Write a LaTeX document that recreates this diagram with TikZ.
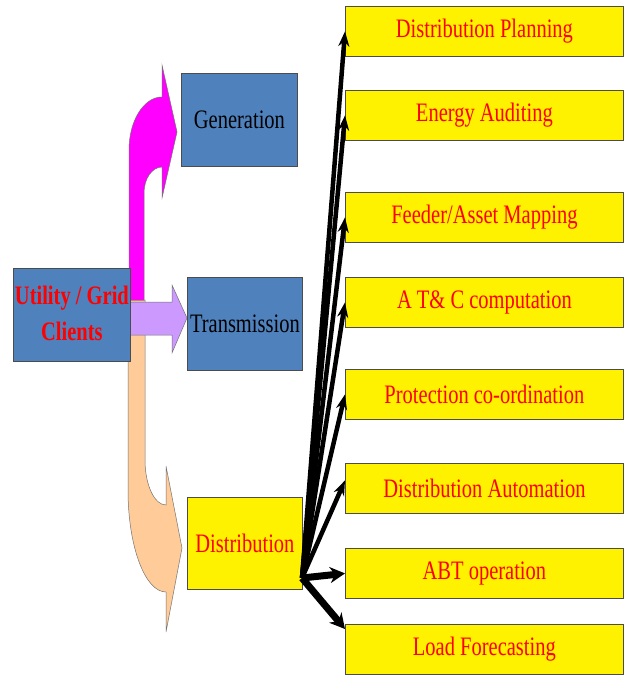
\documentclass[tikz,border=0pt]{standalone}
\usepackage{fontspec}
\setmainfont{Liberation Serif}
\usepackage{graphicx}
\usetikzlibrary{arrows.meta, positioning}

\definecolor{boxblue}{HTML}{4F81BD}
\definecolor{pinkarrow}{HTML}{FF00FF}
\definecolor{lilac}{HTML}{CC99FF}
\definecolor{peach}{HTML}{FFCC99}

\newcommand{\talltext}[1]{\scalebox{1}[1.3]{#1}}

\begin{document}
\begin{tikzpicture}[x=1pt,y=-1pt,>={Stealth[length=15pt,width=11pt]},
                    main node/.style={draw=black!70,line width=0.8pt,inner sep=0pt,anchor=north west,
                      font=\fontsize{20.5}{27.7}\selectfont},
                    blue node/.style={main node,fill=boxblue,minimum width=116pt,minimum height=93pt},
                    task node/.style={main node,fill=yellow,text=red,minimum width=278pt,minimum height=50pt},
                    block arrow/.style={draw=black!55,line width=0.5pt}]

  \useasboundingbox (0,0) rectangle (626,677);

  % block arrows
  \path[block arrow,fill=peach] (128,300) -- (128,490)
    arc[start angle=180,end angle=90,x radius=38,y radius=102]
    -- (166,632) -- (182,548) -- (166,466) -- (166,505)
    arc[start angle=90,end angle=180,x radius=21,y radius=45]
    -- (145,300) -- cycle;
  \path[block arrow,fill=pinkarrow] (129,300) -- (129,150)
    arc[start angle=180,end angle=270,x radius=33,y radius=53]
    -- (162,65) -- (177,132) -- (162,198) -- (162,167)
    arc[start angle=270,end angle=180,x radius=18,y radius=26]
    -- (144,300) -- cycle;
  \path[block arrow,fill=lilac] (129,302) -- (172,302) -- (172,285) -- (187,318)
    -- (172,353) -- (172,335) -- (129,335) -- cycle;

  \node[blue node,minimum width=117pt,text=red,font=\bfseries\fontsize{20.5}{27.7}\selectfont] (util) at (13,268)
    {\talltext{\begin{tabular}{@{}c@{}}Utility / Grid\\Clients\end{tabular}}};
  \node[blue node] (gen) at (181,73) {\talltext{Generation}};
  \node[blue node,minimum width=115pt] (trans) at (187,277) {\talltext{Transmission}};
  \node[blue node,minimum width=115pt,minimum height=92pt,fill=yellow,text=red] (dist) at (187,497) {\talltext{Distribution}};

  \node[task node] (plan) at (345,6) {\talltext{Distribution Planning}};
  \node[task node] (audit) at (345,90) {\talltext{Energy Auditing}};
  \node[task node] (mapping) at (345,192) {\talltext{Feeder/Asset Mapping}};
  \node[task node] (atc) at (345,277) {\talltext{A T\& C computation}};
  \node[task node] (protect) at (345,369) {\talltext{Protection co-ordination}};
  \node[task node] (autom) at (345,463) {\talltext{Distribution Automation}};
  \node[task node] (abt) at (345,548) {\talltext{ABT operation}};
  \node[task node] (load) at (345,624) {\talltext{Load Forecasting}};

  \coordinate (hub) at (302,578);

  \path[->,line width=4.5pt]
    (hub) edge (plan.west)
    (hub) edge (audit.west)
    (hub) edge (mapping.west)
    (hub) edge (atc.west)
    (hub) edge (protect.west)
    (hub) edge ([yshift=8pt]autom.west);
  \path[-{Stealth[length=15pt,width=16pt]},line width=7pt]
    (hub) edge (abt.west)
    (hub) edge ([yshift=-5pt]load.north west);

\end{tikzpicture}
\end{document}
